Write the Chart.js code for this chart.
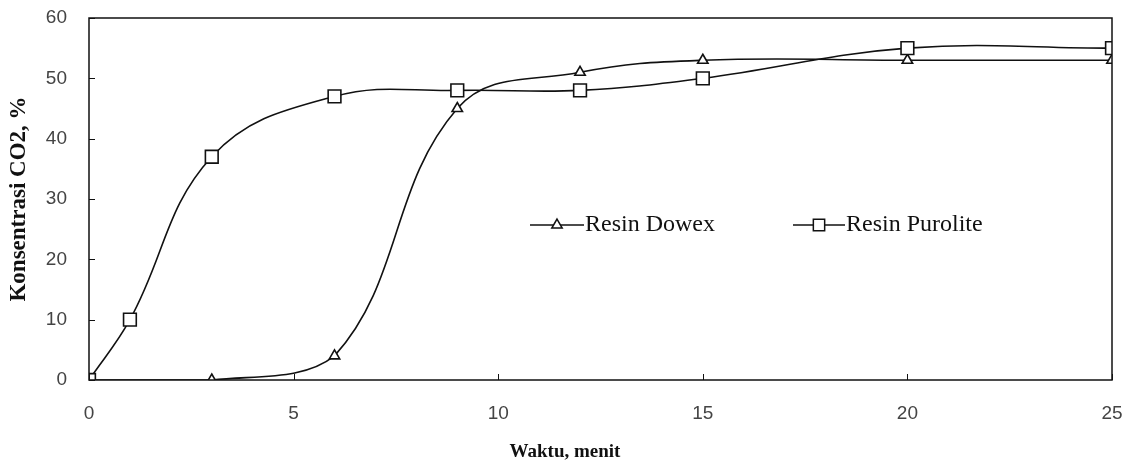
<!DOCTYPE html>
<html>
<head>
<meta charset="utf-8">
<script src="https://cdn.jsdelivr.net/npm/chart.js@4/dist/chart.umd.min.js"></script>
<style>
  body { margin: 0; background: #fff; }
  #wrap { width: 1133px; height: 463px; }
</style>
</head>
<body>
<div id="wrap"><canvas id="chart" width="1133" height="463"></canvas></div>
<script>
// data
const dowexTime = [0, 3, 6, 9, 12, 15, 20, 25];
const dowexValues = [0, 0, 4, 45, 51, 53, 53, 53];
const puroliteTime = [0, 1, 3, 6, 9, 12, 15, 20, 25];
const puroliteValues = [0, 10, 37, 47, 48, 48, 50, 55, 55];
const xTicks = [0, 5, 10, 15, 20, 25];
const yTicks = [0, 10, 20, 30, 40, 50, 60];
const seriesNames = ['Resin Dowex', 'Resin Purolite'];
const xTitle = 'Waktu, menit';

const toPoints = (xs, ys) => xs.map((x, i) => ({ x: x, y: ys[i] }));

// box round the plot, inner tick marks, x title and the legend inside the plot
const framePlugin = {
  id: 'frame',
  afterDatasetsDraw(chart) {
    const ctx = chart.ctx;
    const a = chart.chartArea;
    const xs = chart.scales.x;
    const ys = chart.scales.y;
    ctx.save();
    ctx.strokeStyle = '#111';
    ctx.lineWidth = 1.5;
    ctx.strokeRect(a.left, a.top, a.right - a.left, a.bottom - a.top);
    ctx.lineWidth = 1;
    ctx.beginPath();
    yTicks.forEach(v => {
      const y = Math.round(ys.getPixelForValue(v)) + 0.5;
      ctx.moveTo(a.left, y);
      ctx.lineTo(a.left + 6, y);
    });
    xTicks.forEach(v => {
      const x = Math.round(xs.getPixelForValue(v)) + 0.5;
      ctx.moveTo(x, a.bottom);
      ctx.lineTo(x, a.bottom - 6);
    });
    ctx.stroke();

    // x axis title, sits a bit left of centre in the original
    ctx.fillStyle = '#111';
    ctx.textAlign = 'center';
    ctx.textBaseline = 'middle';
    ctx.font = 'bold 19px "Liberation Serif", "Times New Roman", serif';
    ctx.fillText(xTitle, 565, 452);

    // legend
    const ly = 225;
    const items = [
      { x1: 530, x2: 584, style: 'triangle', r: 6, text: seriesNames[0] },
      { x1: 793, x2: 845, style: 'rect', r: 8, text: seriesNames[1] }
    ];
    ctx.textAlign = 'left';
    ctx.font = '24px "Liberation Serif", "Times New Roman", serif';
    items.forEach(it => {
      ctx.lineWidth = 1.5;
      ctx.strokeStyle = '#111';
      ctx.beginPath();
      ctx.moveTo(it.x1, ly);
      ctx.lineTo(it.x2, ly);
      ctx.stroke();
      ctx.fillStyle = '#fff';
      Chart.helpers.drawPoint(ctx, {
        pointStyle: it.style, radius: it.r, borderWidth: 1.5, rotation: 0
      }, (it.x1 + it.x2) / 2, ly);
      ctx.fillStyle = '#111';
      ctx.fillText(it.text, it.x2 + 1, ly);
    });
    ctx.restore();
  }
};

const lineStyle = {
  borderColor: '#111',
  borderWidth: 1.6,
  pointBackgroundColor: '#fff',
  pointBorderColor: '#111',
  pointBorderWidth: 1.6,
  tension: 0.4,
  clip: 0,
  fill: false
};

new Chart(document.getElementById('chart'), {
  type: 'line',
  data: {
    datasets: [
      Object.assign({
        label: seriesNames[1],
        data: toPoints(puroliteTime, puroliteValues),
        pointStyle: 'rect',
        pointRadius: 9
      }, lineStyle),
      Object.assign({
        label: seriesNames[0],
        data: toPoints(dowexTime, dowexValues),
        pointStyle: 'triangle',
        pointRadius: 6
      }, lineStyle)
    ]
  },
  options: {
    responsive: false,
    animation: false,
    layout: { padding: { top: 18, right: 21, left: 0, bottom: 0 } },
    plugins: { legend: { display: false }, tooltip: { enabled: false } },
    scales: {
      x: {
        type: 'linear',
        min: 0,
        max: 25,
        afterFit: s => { s.height = 83; s.paddingLeft = 0; s.paddingRight = 0; },
        afterBuildTicks: s => { s.ticks = xTicks.map(v => ({ value: v })); },
        grid: { display: false, drawTicks: false },
        border: { display: false },
        ticks: {
          padding: 22,
          color: '#444',
          font: { family: '"Liberation Sans", Arial, sans-serif', size: 19 }
        }
      },
      y: {
        min: 0,
        max: 60,
        afterFit: s => { s.width = 89; s.paddingTop = 0; s.paddingBottom = 0; },
        afterBuildTicks: s => { s.ticks = yTicks.map(v => ({ value: v })); },
        grid: { display: false, drawTicks: false },
        border: { display: false },
        ticks: {
          padding: 22,
          color: '#444',
          font: { family: '"Liberation Sans", Arial, sans-serif', size: 19 }
        },
        title: {
          display: true,
          text: 'Konsentrasi CO2, %',
          color: '#111',
          padding: { top: 5, bottom: 0 },
          font: { family: '"Liberation Serif", "Times New Roman", serif', size: 23, weight: 'bold' }
        }
      }
    }
  },
  plugins: [framePlugin]
});
</script>
</body>
</html>
